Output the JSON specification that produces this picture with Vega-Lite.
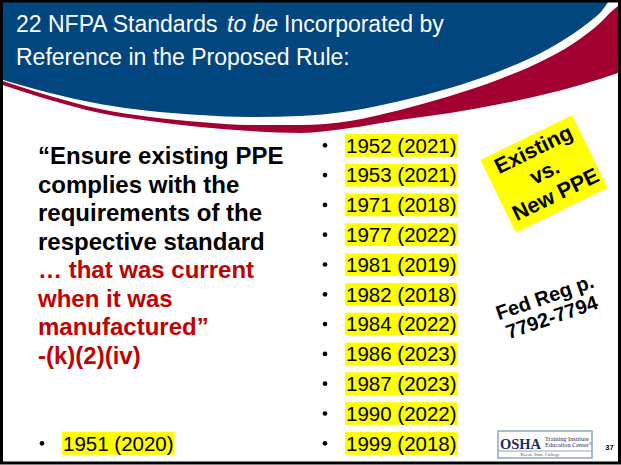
{
  "$schema": "https://vega.github.io/schema/vega-lite/v6.json",
  "width": 621,
  "height": 465,
  "padding": 0,
  "autosize": {"type": "none"},
  "background": "white",
  "config": {"view": {"stroke": null}},
  "datasets": {
    "swoosh": [
      {"x": 0, "blue": 79, "redTop": 80, "redBot": 84},
      {"x": 50, "blue": 93, "redTop": 96, "redBot": 100},
      {"x": 100, "blue": 104, "redTop": 109, "redBot": 113},
      {"x": 150, "blue": 111, "redTop": 117, "redBot": 121},
      {"x": 200, "blue": 115, "redTop": 122, "redBot": 127},
      {"x": 250, "blue": 117, "redTop": 125, "redBot": 131},
      {"x": 300, "blue": 116, "redTop": 125, "redBot": 133},
      {"x": 350, "blue": 111, "redTop": 121, "redBot": 128},
      {"x": 400, "blue": 101, "redTop": 110, "redBot": 120},
      {"x": 450, "blue": 88, "redTop": 96, "redBot": 113},
      {"x": 500, "blue": 71, "redTop": 79, "redBot": 104},
      {"x": 550, "blue": 48, "redTop": 57, "redBot": 93},
      {"x": 580, "blue": 29, "redTop": 39, "redBot": 85},
      {"x": 600, "blue": 13, "redTop": 23, "redBot": 79},
      {"x": 612, "blue": 0, "redTop": 11, "redBot": 75},
      {"x": 621, "blue": 0, "redTop": 4, "redBot": 72}
    ],
    "titleRegular": [
      {"t": "22 NFPA Standards", "x": 16, "y": 32},
      {"t": "Incorporated by", "x": 284, "y": 32},
      {"t": "Reference in the Proposed Rule:", "x": 16, "y": 65}
    ],
    "titleItalic": [
      {"t": "to be", "x": 227, "y": 32}
    ],
    "quoteBlack": [
      {"t": "“Ensure existing PPE", "x": 38, "y": 164},
      {"t": "complies with the", "x": 38, "y": 192.5},
      {"t": "requirements of the", "x": 38, "y": 221},
      {"t": "respective standard", "x": 38, "y": 249.5}
    ],
    "quoteRed": [
      {"t": "… that was current", "x": 38, "y": 278},
      {"t": "when it was", "x": 38, "y": 306.5},
      {"t": "manufactured”", "x": 38, "y": 335},
      {"t": "-(k)(2)(iv)", "x": 38, "y": 363.5}
    ],
    "list": [
      {"label": "1952 (2021)", "x": 346, "y": 145.3},
      {"label": "1953 (2021)", "x": 346, "y": 175.1},
      {"label": "1971 (2018)", "x": 346, "y": 204.9},
      {"label": "1977 (2022)", "x": 346, "y": 234.7},
      {"label": "1981 (2019)", "x": 346, "y": 264.5},
      {"label": "1982 (2018)", "x": 346, "y": 294.3},
      {"label": "1984 (2022)", "x": 346, "y": 324.1},
      {"label": "1986 (2023)", "x": 346, "y": 353.9},
      {"label": "1987 (2023)", "x": 346, "y": 383.7},
      {"label": "1990 (2022)", "x": 346, "y": 413.5},
      {"label": "1999 (2018)", "x": 346, "y": 443.3},
      {"label": "1951 (2020)", "x": 63, "y": 443.3}
    ],
    "ppeBox": [{"x": 544, "y": 174}],
    "ppeText": [
      {"t": "Existing", "x": 534, "y": 150.5},
      {"t": "vs.", "x": 545, "y": 173},
      {"t": "New PPE", "x": 556, "y": 195.5}
    ],
    "fedText": [
      {"t": "Fed Reg p.", "x": 545, "y": 298},
      {"t": "7792-7794", "x": 552, "y": 318}
    ],
    "logoBox": [{"x": 498, "x2": 592, "y": 431, "y2": 458}],
    "logoLine": [{"x": 498, "x2": 592, "y": 451}],
    "logoBig": [{"t": "OSHA", "x": 500, "y": 448.5}],
    "logoSmall": [
      {"t": "Training Institute", "x": 545, "y": 441},
      {"t": "Education Center°", "x": 545, "y": 446.5}
    ],
    "logoCollege": [{"t": "Keene State College", "x": 540, "y": 456}],
    "pageNum": [{"t": "37", "x": 609.5, "y": 449.7}],
    "frame": [{"x": 1.5, "x2": 619.5, "y": 1, "y2": 463}]
  },
  "layer": [
    {
      "data": {"name": "swoosh"},
      "mark": {"type": "area", "color": "#a10031", "interpolate": "monotone", "opacity": 1},
      "encoding": {
        "x": {"field": "x", "type": "quantitative", "scale": {"domain": [0, 621], "nice": false, "zero": false}, "axis": null},
        "y": {"field": "redBot", "type": "quantitative", "scale": {"domain": [0, 465], "nice": false, "zero": false, "reverse": true}, "axis": null},
        "y2": {"datum": 0}
      }
    },
    {
      "data": {"name": "swoosh"},
      "mark": {"type": "area", "color": "#ffffff", "interpolate": "monotone", "opacity": 1},
      "encoding": {
        "x": {"field": "x", "type": "quantitative", "scale": {"domain": [0, 621], "nice": false, "zero": false}, "axis": null},
        "y": {"field": "redTop", "type": "quantitative", "scale": {"domain": [0, 465], "nice": false, "zero": false, "reverse": true}, "axis": null},
        "y2": {"datum": 0}
      }
    },
    {
      "data": {"name": "swoosh"},
      "mark": {"type": "area", "color": "#01467f", "interpolate": "monotone", "opacity": 1},
      "encoding": {
        "x": {"field": "x", "type": "quantitative", "scale": {"domain": [0, 621], "nice": false, "zero": false}, "axis": null},
        "y": {"field": "blue", "type": "quantitative", "scale": {"domain": [0, 465], "nice": false, "zero": false, "reverse": true}, "axis": null},
        "y2": {"datum": 0}
      }
    },
    {
      "data": {"name": "titleRegular"},
      "mark": {"type": "text", "align": "left", "baseline": "alphabetic", "font": "Liberation Sans", "fontSize": 23, "color": "#ffffff"},
      "encoding": {
        "x": {"field": "x", "type": "quantitative", "scale": {"domain": [0, 621], "nice": false, "zero": false}, "axis": null},
        "y": {"field": "y", "type": "quantitative", "scale": {"domain": [0, 465], "nice": false, "zero": false, "reverse": true}, "axis": null},
        "text": {"field": "t"}
      }
    },
    {
      "data": {"name": "titleItalic"},
      "mark": {"type": "text", "align": "left", "baseline": "alphabetic", "font": "Liberation Sans", "fontStyle": "italic", "fontSize": 23, "color": "#ffffff"},
      "encoding": {
        "x": {"field": "x", "type": "quantitative", "scale": {"domain": [0, 621], "nice": false, "zero": false}, "axis": null},
        "y": {"field": "y", "type": "quantitative", "scale": {"domain": [0, 465], "nice": false, "zero": false, "reverse": true}, "axis": null},
        "text": {"field": "t"}
      }
    },
    {
      "data": {"name": "quoteBlack"},
      "mark": {"type": "text", "align": "left", "baseline": "alphabetic", "font": "Liberation Sans", "fontWeight": "bold", "fontSize": 24, "color": "#000000"},
      "encoding": {
        "x": {"field": "x", "type": "quantitative", "scale": {"domain": [0, 621], "nice": false, "zero": false}, "axis": null},
        "y": {"field": "y", "type": "quantitative", "scale": {"domain": [0, 465], "nice": false, "zero": false, "reverse": true}, "axis": null},
        "text": {"field": "t"}
      }
    },
    {
      "data": {"name": "quoteRed"},
      "mark": {"type": "text", "align": "left", "baseline": "alphabetic", "font": "Liberation Sans", "fontWeight": "bold", "fontSize": 24, "color": "#c00000"},
      "encoding": {
        "x": {"field": "x", "type": "quantitative", "scale": {"domain": [0, 621], "nice": false, "zero": false}, "axis": null},
        "y": {"field": "y", "type": "quantitative", "scale": {"domain": [0, 465], "nice": false, "zero": false, "reverse": true}, "axis": null},
        "text": {"field": "t"}
      }
    },
    {
      "data": {"name": "list"},
      "mark": {"type": "point", "shape": "M-1,-0.202L1,-0.202L1,0.202L-1,0.202Z", "size": 12656, "filled": true, "fill": "#ffff00", "strokeWidth": 0, "opacity": 1, "xOffset": 55.2},
      "encoding": {
        "x": {"field": "x", "type": "quantitative", "scale": {"domain": [0, 621], "nice": false, "zero": false}, "axis": null},
        "y": {"field": "y", "type": "quantitative", "scale": {"domain": [0, 465], "nice": false, "zero": false, "reverse": true}, "axis": null}
      }
    },
    {
      "data": {"name": "list"},
      "mark": {"type": "point", "shape": "circle", "size": 22, "filled": true, "fill": "#000000", "strokeWidth": 0, "opacity": 1, "xOffset": -21},
      "encoding": {
        "x": {"field": "x", "type": "quantitative", "scale": {"domain": [0, 621], "nice": false, "zero": false}, "axis": null},
        "y": {"field": "y", "type": "quantitative", "scale": {"domain": [0, 465], "nice": false, "zero": false, "reverse": true}, "axis": null}
      }
    },
    {
      "data": {"name": "list"},
      "mark": {"type": "text", "align": "left", "baseline": "alphabetic", "dy": 7.3, "font": "Liberation Sans", "fontSize": 20.5, "color": "#000000"},
      "encoding": {
        "x": {"field": "x", "type": "quantitative", "scale": {"domain": [0, 621], "nice": false, "zero": false}, "axis": null},
        "y": {"field": "y", "type": "quantitative", "scale": {"domain": [0, 465], "nice": false, "zero": false, "reverse": true}, "axis": null},
        "text": {"field": "label"}
      }
    },
    {
      "data": {"name": "ppeBox"},
      "mark": {"type": "point", "shape": "M-1,-0.794L1,-0.794L1,0.794L-1,0.794Z", "size": 10404, "angle": -26, "filled": true, "fill": "#ffff00", "strokeWidth": 0, "opacity": 1},
      "encoding": {
        "x": {"field": "x", "type": "quantitative", "scale": {"domain": [0, 621], "nice": false, "zero": false}, "axis": null},
        "y": {"field": "y", "type": "quantitative", "scale": {"domain": [0, 465], "nice": false, "zero": false, "reverse": true}, "axis": null}
      }
    },
    {
      "data": {"name": "ppeText"},
      "mark": {"type": "text", "align": "center", "baseline": "middle", "angle": -26, "font": "Liberation Sans", "fontWeight": "bold", "fontSize": 21.5, "color": "#000000"},
      "encoding": {
        "x": {"field": "x", "type": "quantitative", "scale": {"domain": [0, 621], "nice": false, "zero": false}, "axis": null},
        "y": {"field": "y", "type": "quantitative", "scale": {"domain": [0, 465], "nice": false, "zero": false, "reverse": true}, "axis": null},
        "text": {"field": "t"}
      }
    },
    {
      "data": {"name": "fedText"},
      "mark": {"type": "text", "align": "center", "baseline": "middle", "angle": -19, "font": "Liberation Sans", "fontWeight": "bold", "fontSize": 20, "color": "#000000"},
      "encoding": {
        "x": {"field": "x", "type": "quantitative", "scale": {"domain": [0, 621], "nice": false, "zero": false}, "axis": null},
        "y": {"field": "y", "type": "quantitative", "scale": {"domain": [0, 465], "nice": false, "zero": false, "reverse": true}, "axis": null},
        "text": {"field": "t"}
      }
    },
    {
      "data": {"name": "logoBox"},
      "mark": {"type": "rect", "fill": "#ffffff", "stroke": "#8ea6c0", "strokeWidth": 1.5},
      "encoding": {
        "x": {"field": "x", "type": "quantitative", "scale": {"domain": [0, 621], "nice": false, "zero": false}, "axis": null},
        "x2": {"field": "x2"},
        "y": {"field": "y", "type": "quantitative", "scale": {"domain": [0, 465], "nice": false, "zero": false, "reverse": true}, "axis": null},
        "y2": {"field": "y2"}
      }
    },
    {
      "data": {"name": "logoLine"},
      "mark": {"type": "rule", "stroke": "#8ea6c0", "strokeWidth": 1},
      "encoding": {
        "x": {"field": "x", "type": "quantitative", "scale": {"domain": [0, 621], "nice": false, "zero": false}, "axis": null},
        "x2": {"field": "x2"},
        "y": {"field": "y", "type": "quantitative", "scale": {"domain": [0, 465], "nice": false, "zero": false, "reverse": true}, "axis": null}
      }
    },
    {
      "data": {"name": "logoBig"},
      "mark": {"type": "text", "align": "left", "baseline": "alphabetic", "font": "Liberation Serif", "fontWeight": "bold", "fontSize": 14.5, "color": "#1b2b63"},
      "encoding": {
        "x": {"field": "x", "type": "quantitative", "scale": {"domain": [0, 621], "nice": false, "zero": false}, "axis": null},
        "y": {"field": "y", "type": "quantitative", "scale": {"domain": [0, 465], "nice": false, "zero": false, "reverse": true}, "axis": null},
        "text": {"field": "t"}
      }
    },
    {
      "data": {"name": "logoSmall"},
      "mark": {"type": "text", "align": "left", "baseline": "alphabetic", "font": "Liberation Serif", "fontSize": 6.3, "color": "#1b2b63"},
      "encoding": {
        "x": {"field": "x", "type": "quantitative", "scale": {"domain": [0, 621], "nice": false, "zero": false}, "axis": null},
        "y": {"field": "y", "type": "quantitative", "scale": {"domain": [0, 465], "nice": false, "zero": false, "reverse": true}, "axis": null},
        "text": {"field": "t"}
      }
    },
    {
      "data": {"name": "logoCollege"},
      "mark": {"type": "text", "align": "center", "baseline": "alphabetic", "font": "Liberation Serif", "fontSize": 4.8, "color": "#4a5575"},
      "encoding": {
        "x": {"field": "x", "type": "quantitative", "scale": {"domain": [0, 621], "nice": false, "zero": false}, "axis": null},
        "y": {"field": "y", "type": "quantitative", "scale": {"domain": [0, 465], "nice": false, "zero": false, "reverse": true}, "axis": null},
        "text": {"field": "t"}
      }
    },
    {
      "data": {"name": "pageNum"},
      "mark": {"type": "text", "align": "center", "baseline": "alphabetic", "font": "Liberation Sans", "fontWeight": "bold", "fontSize": 7.5, "color": "#000000"},
      "encoding": {
        "x": {"field": "x", "type": "quantitative", "scale": {"domain": [0, 621], "nice": false, "zero": false}, "axis": null},
        "y": {"field": "y", "type": "quantitative", "scale": {"domain": [0, 465], "nice": false, "zero": false, "reverse": true}, "axis": null},
        "text": {"field": "t"}
      }
    },
    {
      "data": {"name": "frame"},
      "mark": {"type": "rect", "filled": false, "fill": null, "stroke": "#000000", "strokeWidth": 3},
      "encoding": {
        "x": {"field": "x", "type": "quantitative", "scale": {"domain": [0, 621], "nice": false, "zero": false}, "axis": null},
        "x2": {"field": "x2"},
        "y": {"field": "y", "type": "quantitative", "scale": {"domain": [0, 465], "nice": false, "zero": false, "reverse": true}, "axis": null},
        "y2": {"field": "y2"}
      }
    }
  ]
}
